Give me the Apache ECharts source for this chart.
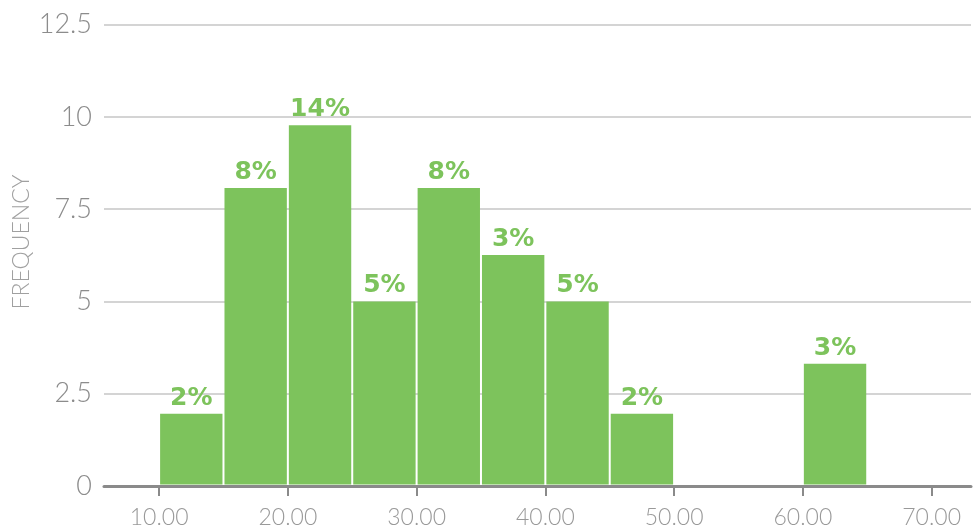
<!DOCTYPE html>
<html>
<head>
<meta charset="utf-8">
<title>Frequency histogram</title>
<script src="https://cdn.jsdelivr.net/npm/echarts@6/dist/echarts.min.js"></script>
<style>
  html, body { margin: 0; padding: 0; background: #ffffff; }
  #chart { width: 973px; height: 529px; }
</style>
</head>
<body>
<div id="chart"></div>
<script>
// Histogram bins (left edge of each 5-wide bin), counts and share labels
const binStart = [10, 15, 20, 25, 30, 35, 40, 45, 60];
const binWidth = 5;
const frequency = [1.96, 8.07, 9.77, 5, 8.07, 6.26, 5, 1.96, 3.31];
const shareLabels = ['2%', '8%', '14%', '5%', '8%', '3%', '5%', '2%', '3%'];
const xTicks = [10, 20, 30, 40, 50, 60, 70];
const yAxisTitle = 'FREQUENCY';

const GREEN = '#7dc35c';
const LIGHT = 'Lato, "Open Sans", sans-serif';

const binData = binStart.map((s, i) => [s, s + binWidth, frequency[i], shareLabels[i]]);

const chart = echarts.init(document.getElementById('chart'), null, { renderer: 'canvas' });

chart.setOption({
  backgroundColor: '#ffffff',
  animation: false,
  grid: { left: 104, right: 2, top: 24.5, bottom: 40, containLabel: false },
  xAxis: {
    type: 'value',
    min: 5.72,
    max: 73.06,
    splitLine: { show: false },
    axisLine: { show: true, lineStyle: { color: '#8a8a8a', width: 3 } },
    axisTick: {
      show: true,
      customValues: xTicks,
      length: 10,
      lineStyle: { color: '#8a8a8a', width: 2 }
    },
    axisLabel: {
      customValues: xTicks,
      formatter: v => Number(v).toFixed(2),
      margin: 20,
      fontSize: 23,
      fontFamily: LIGHT,
      fontWeight: 300,
      color: '#999999'
    }
  },
  yAxis: {
    type: 'value',
    min: 0,
    max: 12.5,
    interval: 2.5,
    axisLine: { show: false },
    axisTick: { show: false },
    splitLine: { lineStyle: { color: '#d4d4d4', width: 2 } },
    axisLabel: {
      margin: 12,
      fontSize: 27,
      fontFamily: LIGHT,
      fontWeight: 300,
      color: '#8c8c8c'
    }
  },
  graphic: [{
    type: 'text',
    x: 22,
    y: 242,
    rotation: Math.PI / 2,
    style: {
      text: yAxisTitle,
      fontSize: 23,
      fontFamily: LIGHT,
      fontWeight: 300,
      fill: '#a0a0a0',
      align: 'center',
      verticalAlign: 'middle'
    }
  }],
  series: [{
    type: 'custom',
    data: binData,
    encode: { x: [0, 1], y: 2 },
    renderItem: function (params, api) {
      const topLeft = api.coord([api.value(0), api.value(2)]);
      const bottomRight = api.coord([api.value(1), 0]);
      const gap = 1;
      return {
        type: 'rect',
        shape: {
          x: topLeft[0] + gap,
          y: topLeft[1],
          width: bottomRight[0] - topLeft[0] - 2 * gap,
          height: bottomRight[1] - topLeft[1] - 1.5
        },
        style: { fill: GREEN },
        textContent: {
          style: {
            text: binData[params.dataIndex][3],
            fill: GREEN,
            fontSize: 25,
            fontWeight: 'bold',
            fontFamily: '"DejaVu Sans", sans-serif'
          }
        },
        textConfig: { position: 'top', distance: 3 }
      };
    }
  }]
});
</script>
</body>
</html>
